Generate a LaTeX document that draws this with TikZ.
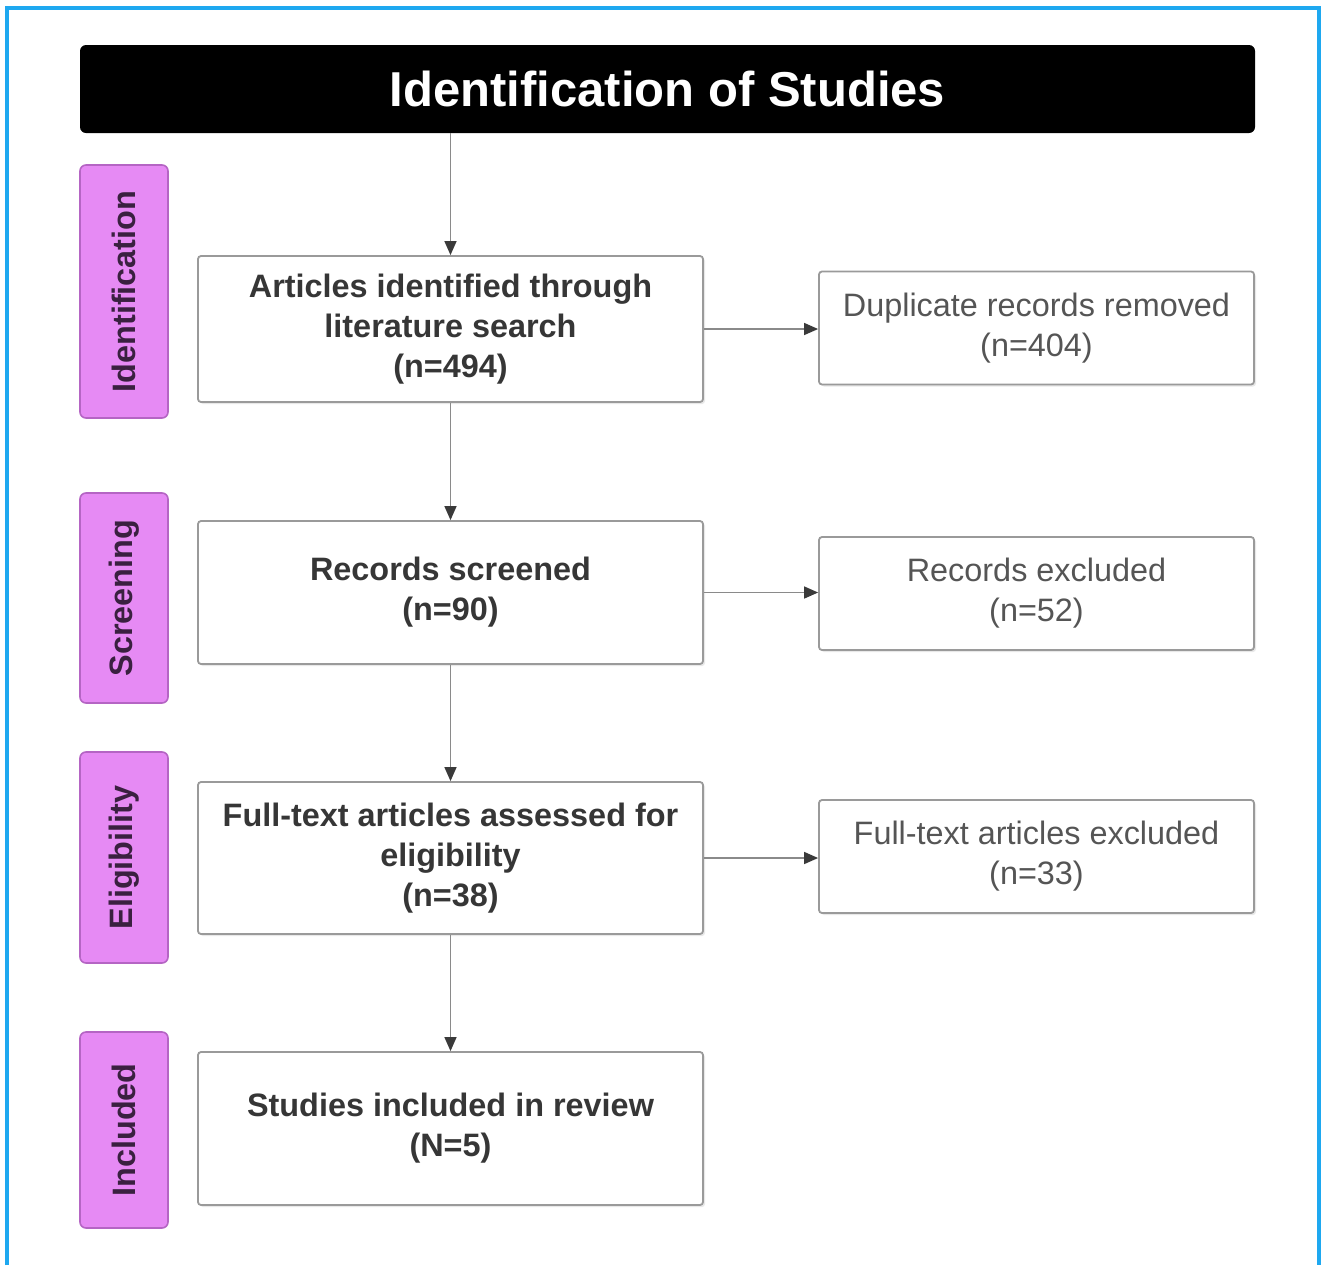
\documentclass[tikz,border=0pt]{standalone}
\usepackage{fontspec}
\setmainfont{Liberation Sans}
\usetikzlibrary{arrows.meta,shadows}
\definecolor{frameblue}{HTML}{1EA8F0}
\definecolor{phasefill}{HTML}{E68AF4}
\definecolor{phaseline}{HTML}{B565C4}
\definecolor{phasetext}{HTML}{3A2040}
\definecolor{boxline}{HTML}{9A9A9A}
\definecolor{maintext}{HTML}{363636}
\definecolor{sidetext}{HTML}{555555}
\definecolor{arrowgray}{HTML}{8A8A8A}
\definecolor{tipgray}{HTML}{3A3A3A}
\tikzset{
  mainbox/.style={draw=boxline, line width=0.9pt, fill=white, align=center, rounded corners=1.5pt,
    font=\fontsize{16.2}{20}\selectfont\bfseries, text=maintext, minimum width=252.5pt,
    drop shadow={opacity=0.18, shadow xshift=1pt, shadow yshift=-1pt}},
  sidebox/.style={draw=boxline, line width=0.9pt, fill=white, align=center, rounded corners=1.5pt,
    font=\fontsize{16.2}{20}\selectfont, text=sidetext, minimum width=217.5pt, minimum height=56.5pt,
    drop shadow={opacity=0.18, shadow xshift=1pt, shadow yshift=-1pt}},
  phase/.style={draw=phaseline, line width=0.8pt, fill=phasefill, rounded corners=3pt, rotate=90,
    font=\fontsize{16.2}{18}\selectfont\bfseries, text=phasetext, minimum height=44pt, inner sep=0pt},
  titlebox/.style={fill=black, rounded corners=3pt, text=white,
    font=\fontsize{24.5}{28}\selectfont\bfseries, minimum width=587.5pt, minimum height=44pt},
  flow/.style={draw=arrowgray, line width=0.7pt, -{Triangle[length=7pt,width=6pt,color=tipgray]}}
}
\begin{document}
\begin{tikzpicture}[x=0.5pt,y=-0.5pt]
\useasboundingbox (0,0) rectangle (1329,1265);
\draw[frameblue, line width=1.6pt] (7,1265) -- (7,8) -- (1319,8) -- (1319,1265);
\node[titlebox] (title) at (667.5,89) {Identification of Studies};
% phases
\node[phase, minimum width=126.5pt] (p1) at (124,291.5) {Identification};
\node[phase, minimum width=105pt] (p2) at (124,598) {Screening};
\node[phase, minimum width=105.5pt] (p3) at (124,857.5) {Eligibility};
\node[phase, minimum width=98pt] (p4) at (124,1130) {Included};
% main boxes
\node[mainbox, minimum height=73pt] (b1) at (450.5,329) {Articles identified through\\literature search\\(n=494)};
\node[mainbox, minimum height=71.5pt] (b2) at (450.5,592.5) {Records screened\\(n=90)};
\node[mainbox, minimum height=76pt] (b3) at (450.5,858) {Full-text articles assessed for\\eligibility\\(n=38)};
\node[mainbox, minimum height=76.5pt] (b4) at (450.5,1128.5) {Studies included in review\\(N=5)};
% side boxes
\node[sidebox] (r1) at (1036.5,328) {Duplicate records removed\\(n=404)};
\node[sidebox] (r2) at (1036.5,593.5) {Records excluded\\(n=52)};
\node[sidebox] (r3) at (1036.5,856.5) {Full-text articles excluded\\(n=33)};
% connectors
\draw[flow] (title.south -| b1.north) -- (b1.north);
\draw[flow] (b1) -- (b2);
\draw[flow] (b2) -- (b3);
\draw[flow] (b3) -- (b4);
\draw[flow] (b1.east) -- (r1.west |- b1.east);
\draw[flow] (b2.east) -- (r2.west |- b2.east);
\draw[flow] (b3.east) -- (r3.west |- b3.east);
\end{tikzpicture}
\end{document}
